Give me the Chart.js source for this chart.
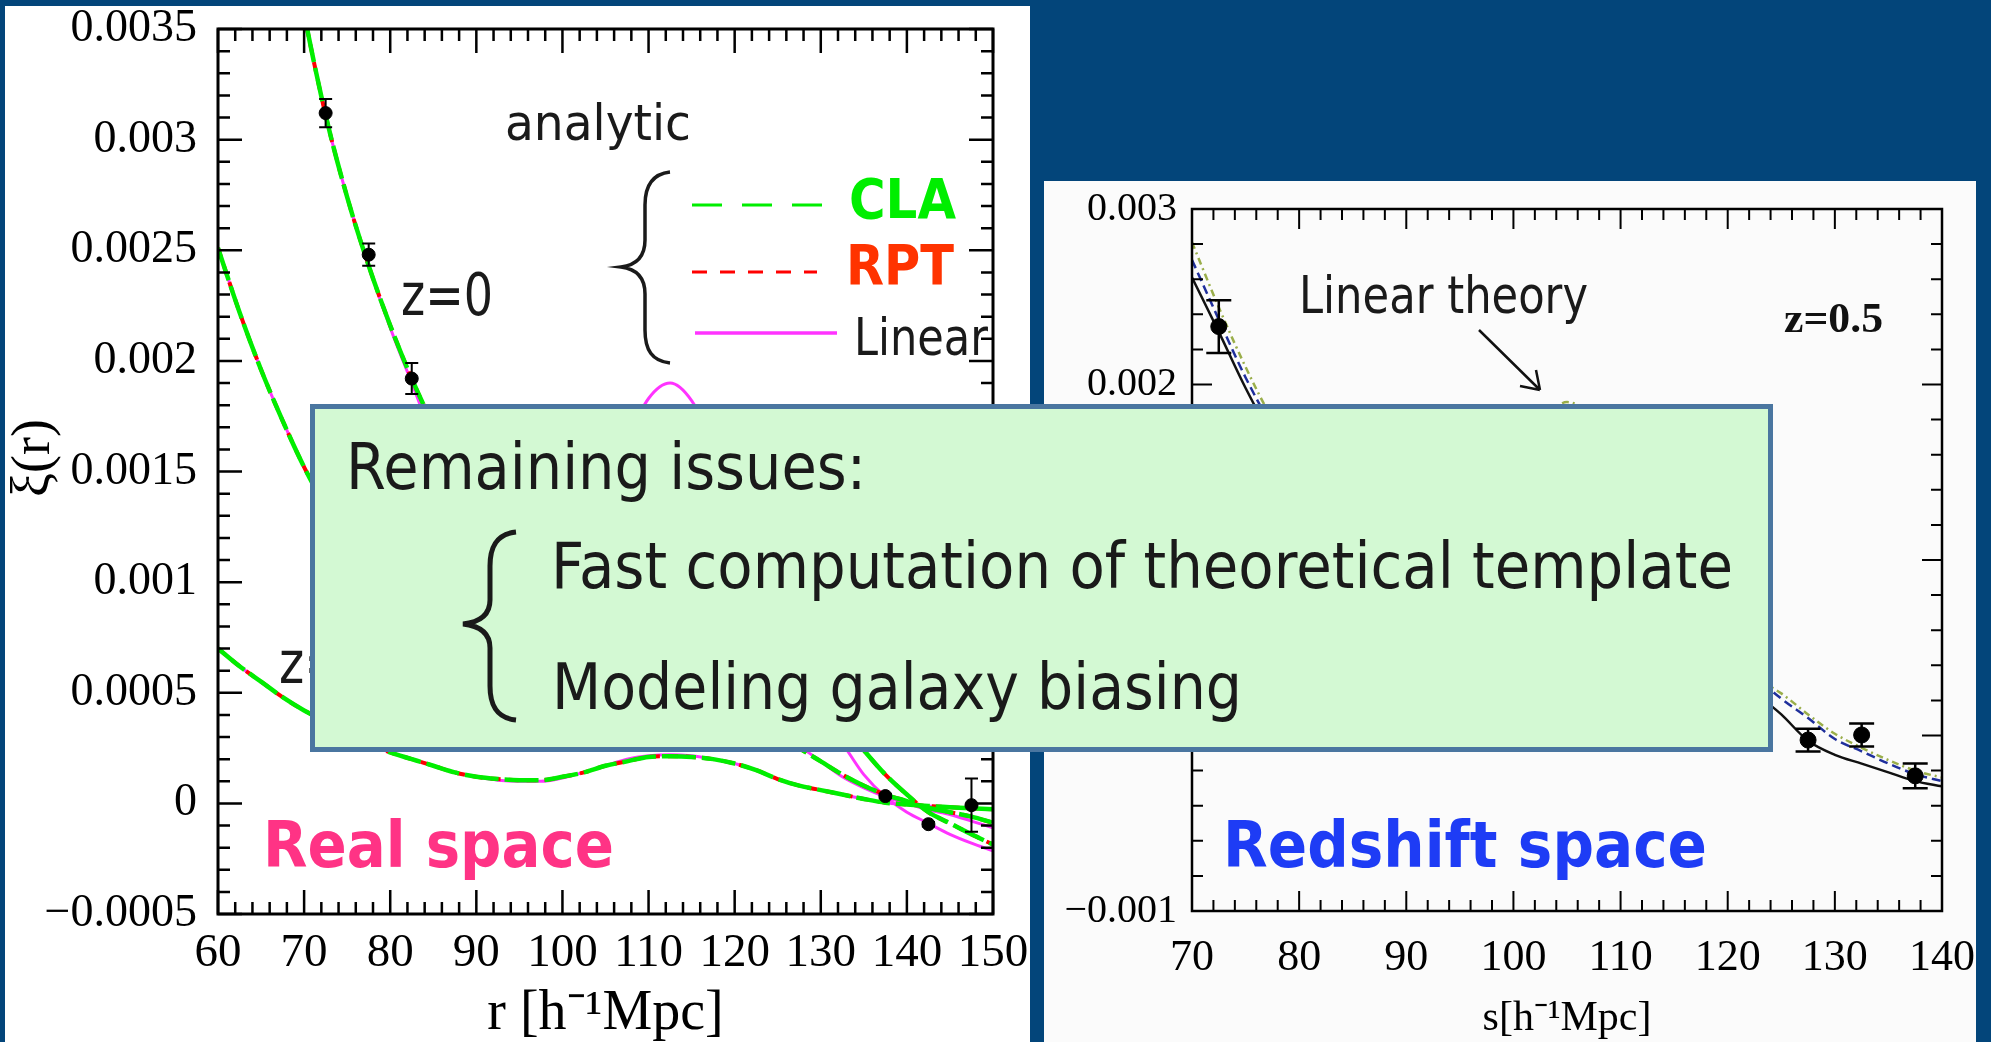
<!DOCTYPE html>
<html>
<head>
<meta charset="utf-8">
<title>Correlation function: real space and redshift space</title>
<script src="https://cdn.jsdelivr.net/npm/chart.js@4.4.1/dist/chart.umd.min.js"></script>
<style>
  body { margin: 0; width: 1991px; height: 1042px; background: #03457a; position: relative; overflow: hidden; }
  .panel { position: absolute; }
  canvas { position: absolute; left: 0; top: 0; }
  .note { position: absolute; white-space: nowrap; font-family: 'DejaVu Sans', sans-serif; transform-origin: 0 0; color: #1a1a1a; }
  #issues { position: absolute; left: 310px; top: 404px; width: 1453px; height: 338px; border: 5px solid #4a76a0; background: #d3f9d3; }
  svg { position: absolute; left: 0; top: 0; }
</style>
</head>
<body>
<div class="panel" style="left:5px; top:6px; width:1025px; height:1036px; background:#fff"></div>
<div class="panel" style="left:1044px; top:181px; width:932px; height:861px; background:#fbfbfb"></div>
<canvas id="realChart" width="1991" height="1042"></canvas>
<canvas id="zspaceChart" width="1991" height="1042"></canvas>

<div class="note" id="realLabel" style="font-weight:bold; color:#ff3385">Real space</div>
<div class="note" id="zspaceLabel" style="font-weight:bold; color:#1e3cf5">Redshift space</div>

<div id="issues"></div>
<svg width="1991" height="1042">
  <path d="M516,532 C497,534 490,546 490,566 L490,600 C490,614 481,622 463,624 C481,626 490,634 490,648 L490,686 C490,706 497,718 516,720"
        fill="none" stroke="#1a1a1a" stroke-width="5"/>
</svg>
<div class="note" id="issue0">Remaining issues:</div>
<div class="note" id="issue1">Fast computation of theoretical template</div>
<div class="note" id="issue2">Modeling galaxy biasing</div>

<script>
// ---- left panel: real space xi(r) ----
const rVals = [60, 62.5, 65, 67.5, 70, 72.5, 75, 77.5, 80, 82.5, 85, 87.5, 90, 92.5, 95, 97.5, 100, 102.5, 105,
  107.5, 110, 112.5, 115, 117.5, 120, 122.5, 125, 127.5, 130, 132.5, 135, 137.5, 140, 142.5, 145, 147.5, 150];

// z = 0
const claZ0 = [0.0060, 0.0053, 0.0047, 0.0041, 0.00357, 0.00311, 0.00274, 0.00243, 0.00216, 0.00192, 0.00171, 0.00152,
  0.00137, 0.00126, 0.0012, 0.00119, 0.00123, 0.00131, 0.00141, 0.00149, 0.00153, 0.0015, 0.00142, 0.00128, 0.0011,
  0.0009, 0.00073, 0.0006, 0.00048, 0.00036, 0.00024, 0.00013, 0.00004, -0.00004, -0.00009, -0.00014, -0.000186];
const rptZ0 = [0.0060, 0.0053, 0.0047, 0.0041, 0.00357, 0.00311, 0.00274, 0.00243, 0.00216, 0.00192, 0.00171, 0.00152,
  0.00137, 0.00126, 0.0012, 0.00119, 0.00123, 0.00132, 0.00142, 0.0015, 0.00154, 0.00151, 0.00142, 0.00128, 0.0011,
  0.0009, 0.00073, 0.0006, 0.00048, 0.00036, 0.00024, 0.00013, 0.00004, -0.00004, -0.00009, -0.00014, -0.000186];
const linZ0 = [0.0061, 0.0054, 0.0047, 0.0041, 0.00357, 0.00311, 0.00274, 0.00243, 0.00215, 0.0019, 0.00165, 0.00142,
  0.00122, 0.00106, 0.00097, 0.00095, 0.00102, 0.00118, 0.0014, 0.00164, 0.00183, 0.0019, 0.00182, 0.00162, 0.00134,
  0.00104, 0.00076, 0.00054, 0.00038, 0.00027, 0.00013, 0.00003, -0.00004, -0.00009, -0.00014, -0.00018, -0.000215];

// z = 1
const claZ1 = [0.00251, 0.00222, 0.00196, 0.00173, 0.00152, 0.00134, 0.00118, 0.00104, 0.00092, 0.00082, 0.00073, 0.00066,
  0.0006, 0.00056, 0.00054, 0.00054, 0.00056, 0.00059, 0.00063, 0.00066, 0.00067, 0.00066, 0.00062, 0.00056, 0.00048,
  0.0004, 0.00032, 0.00025, 0.00019, 0.00013, 0.00008, 0.00004, 0.00001, -0.00002, -0.00004, -0.00006, -0.000088];
const rptZ1 = claZ1;
const linZ1 = [0.00251, 0.00222, 0.00196, 0.00173, 0.00152, 0.00134, 0.00118, 0.00104, 0.00091, 0.0008, 0.0007, 0.00061,
  0.00054, 0.00049, 0.00047, 0.00047, 0.00051, 0.00058, 0.00066, 0.00074, 0.00079, 0.0008, 0.00076, 0.00067, 0.00055,
  0.00043, 0.00033, 0.00026, 0.00019, 0.00012, 0.00007, 0.00003, 0.0, -0.00003, -0.00005, -0.00008, -0.00011];

// z = 3
const claZ3 = [0.0007, 0.00062, 0.00055, 0.00048, 0.00042, 0.00037, 0.00032, 0.00027, 0.00023, 0.0002, 0.00017, 0.00014,
  0.00012, 0.00011, 0.000105, 0.000105, 0.00012, 0.00014, 0.00017, 0.00019, 0.00021, 0.000213, 0.00021, 0.0002, 0.00018,
  0.00015, 0.00011, 0.00008, 0.00006, 0.00004, 0.00002, 0.000003, -0.000005, -0.000012, -0.000017, -0.000022, -0.000027];
const rptZ3 = claZ3;
const linZ3 = [0.0007, 0.00062, 0.00055, 0.00048, 0.00042, 0.00037, 0.00032, 0.00027, 0.00023, 0.0002, 0.00017, 0.00014,
  0.00012, 0.000105, 0.0001, 0.0001, 0.000115, 0.00014, 0.00017, 0.0002, 0.000215, 0.00022, 0.000215, 0.0002, 0.00018,
  0.00015, 0.00011, 0.00008, 0.00006, 0.00004, 0.00002, 0.000003, -0.000005, -0.000012, -0.000017, -0.000022, -0.000027];

// N-body points, z = 0
const rPts = [72.5, 77.5, 82.5, 137.5, 142.5, 147.5];
const xiPts = [0.00312, 0.00248, 0.00192, 0.000033, -0.000094, -0.000008];
const xiErr = [0.000064, 0.00005, 0.00007, 0.00001, 0.00001, 0.00012];

const realYTicks = [-0.0005, 0, 0.0005, 0.001, 0.0015, 0.002, 0.0025, 0.003, 0.0035];
const realYLabels = ['\u22120.0005', '0', '0.0005', '0.001', '0.0015', '0.002', '0.0025', '0.003', '0.0035'];

// ---- right panel: redshift space xi(s), z = 0.5 ----
const sVals = [70, 72.5, 75, 77.5, 80, 82.5, 85, 87.5, 90, 92.5, 95, 97.5, 100, 102.5, 105, 107.5, 110,
  112.5, 115, 117.5, 120, 122.5, 125, 127.5, 130, 132.5, 135, 137.5, 140];
const xisBlack = [0.00261, 0.0023, 0.00198, 0.0017, 0.00148, 0.00131, 0.00119, 0.00111, 0.00107, 0.00107, 0.00111,
  0.00118, 0.00126, 0.00133, 0.00136, 0.00132, 0.00121, 0.00103, 0.00082, 0.0006, 0.00041, 0.00025, 0.00012,
  -0.00003, -0.00011, -0.00016, -0.00021, -0.00026, -0.00029];
const xisBlue = [0.00271, 0.00237, 0.00204, 0.00176, 0.00154, 0.00137, 0.00125, 0.00117, 0.00113, 0.00113, 0.00117,
  0.00124, 0.00133, 0.00141, 0.00145, 0.00141, 0.0013, 0.00112, 0.0009, 0.00068, 0.00049, 0.00034, 0.00021,
  0.0001, -0.00002, -0.00009, -0.00016, -0.00022, -0.00026];
const xisLinear = [0.00281, 0.00244, 0.0021, 0.0018, 0.00155, 0.00134, 0.00118, 0.00107, 0.00101, 0.001, 0.00106,
  0.0012, 0.00146, 0.00175, 0.0019, 0.00179, 0.00148, 0.00112, 0.0008, 0.00057, 0.00042, 0.00033, 0.00024,
  0.00012, 0.00001, -0.00007, -0.00014, -0.0002, -0.00024];

const sPts = [72.5, 127.5, 132.5, 137.5];
const xisPts = [0.00233, -0.000026, 0.000003, -0.00023];
const xisErr = [0.00015, 0.000065, 0.000066, 0.00007];

const zspaceYTicks = [-0.001, 0, 0.001, 0.002, 0.003];
const zspaceYLabels = ['\u22120.001', '0', '0.001', '0.002', '0.003'];

Chart.defaults.color = '#000';

const pairs = (xs, ys) => xs.map((x, i) => ({ x: x, y: ys[i] }));

function curve(xs, ys, color, width, dash) {
  return {
    data: pairs(xs, ys),
    showLine: true,
    borderColor: color,
    borderWidth: width,
    borderDash: dash,
    pointRadius: 0,
    cubicInterpolationMode: 'monotone',
    fill: false
  };
}

function fitText(ctx, text, x, y, width, font, color) {
  ctx.save();
  ctx.font = font;
  ctx.fillStyle = color;
  ctx.textBaseline = 'alphabetic';
  const w = ctx.measureText(text).width;
  ctx.translate(x, y);
  ctx.scale(width / w, 1);
  ctx.fillText(text, 0, 0);
  ctx.restore();
}

// box frame with inward ticks on all four sides
const framePlugin = {
  id: 'frame',
  afterDatasetsDraw(chart, args, opts) {
    const { ctx, chartArea: a, scales: { x, y } } = chart;
    ctx.save();
    ctx.strokeStyle = '#000';
    ctx.lineWidth = opts.tickWidth;
    ctx.beginPath();
    const nx = Math.round((x.max - x.min) / opts.xMinor);
    for (let i = 0; i <= nx; i++) {
      const px = x.getPixelForValue(x.min + i * opts.xMinor);
      const len = i % opts.every === 0 ? opts.major : opts.minor;
      ctx.moveTo(px, a.top); ctx.lineTo(px, a.top + len);
      ctx.moveTo(px, a.bottom); ctx.lineTo(px, a.bottom - len);
    }
    const ny = Math.round((y.max - y.min) / opts.yMinor);
    for (let i = 0; i <= ny; i++) {
      const py = y.getPixelForValue(y.min + i * opts.yMinor);
      const len = i % opts.every === 0 ? opts.major : opts.minor;
      ctx.moveTo(a.left, py); ctx.lineTo(a.left + len, py);
      ctx.moveTo(a.right, py); ctx.lineTo(a.right - len, py);
    }
    ctx.stroke();
    ctx.lineWidth = opts.width;
    ctx.strokeRect(a.left, a.top, a.right - a.left, a.bottom - a.top);
    ctx.restore();
  }
};

const errorBars = {
  id: 'errorBars',
  afterDatasetsDraw(chart) {
    const { ctx, scales: { x, y } } = chart;
    chart.data.datasets.forEach((ds) => {
      if (!ds.errors) return;
      ctx.save();
      ctx.strokeStyle = '#000';
      ctx.lineWidth = ds.errWidth;
      ctx.beginPath();
      ds.data.forEach((p, i) => {
        const px = x.getPixelForValue(p.x);
        const top = y.getPixelForValue(p.y + ds.errors[i]);
        const bot = y.getPixelForValue(p.y - ds.errors[i]);
        const c = ds.capWidth / 2;
        ctx.moveTo(px, top); ctx.lineTo(px, bot);
        ctx.moveTo(px - c, top); ctx.lineTo(px + c, top);
        ctx.moveTo(px - c, bot); ctx.lineTo(px + c, bot);
      });
      ctx.stroke();
      ctx.restore();
    });
  }
};

const realNotes = {
  id: 'realNotes',
  afterDraw(chart) {
    const ctx = chart.ctx;
    fitText(ctx, 'analytic', 505, 140, 186, '50px "DejaVu Sans"', '#1a1a1a');
    fitText(ctx, 'z=0', 401, 315, 92, '58px "DejaVu Sans"', '#1a1a1a');
    fitText(ctx, 'z=3', 279, 683, 96, '58px "DejaVu Sans"', '#1a1a1a');
    fitText(ctx, 'CLA', 849, 218, 107, 'bold 56px "DejaVu Sans"', '#00ee00');
    fitText(ctx, 'RPT', 846, 284, 108, 'bold 56px "DejaVu Sans"', '#ff3300');
    fitText(ctx, 'Linear', 854, 355, 134, '51px "DejaVu Sans"', '#1a1a1a');
    ctx.save();
    ctx.lineWidth = 3;
    ctx.strokeStyle = '#00ee00';
    ctx.setLineDash([30, 20]);
    ctx.beginPath(); ctx.moveTo(692, 205); ctx.lineTo(824, 205); ctx.stroke();
    ctx.strokeStyle = '#ff0000';
    ctx.setLineDash([15, 13]);
    ctx.beginPath(); ctx.moveTo(692, 272); ctx.lineTo(817, 272); ctx.stroke();
    ctx.strokeStyle = '#ff33ff';
    ctx.lineWidth = 3.5;
    ctx.setLineDash([]);
    ctx.beginPath(); ctx.moveTo(695, 333); ctx.lineTo(837, 333); ctx.stroke();
    // brace
    ctx.strokeStyle = '#1a1a1a';
    ctx.lineWidth = 3.5;
    ctx.beginPath();
    ctx.moveTo(670, 172);
    ctx.bezierCurveTo(652, 174, 645, 186, 645, 205);
    ctx.lineTo(645, 240);
    ctx.bezierCurveTo(645, 256, 637, 265, 621, 267);
    ctx.bezierCurveTo(637, 269, 645, 278, 645, 294);
    ctx.lineTo(645, 330);
    ctx.bezierCurveTo(645, 350, 652, 361, 670, 363);
    ctx.stroke();
    ctx.restore();
  }
};

const zspaceNotes = {
  id: 'zspaceNotes',
  afterDraw(chart) {
    const ctx = chart.ctx;
    fitText(ctx, 'Linear theory', 1299, 313, 289, '52px "DejaVu Sans"', '#1a1a1a');
    fitText(ctx, 'z=0.5', 1784, 332, 99, 'bold 42px "Liberation Serif"', '#111');
    ctx.save();
    ctx.strokeStyle = '#111';
    ctx.lineWidth = 2.5;
    ctx.beginPath();
    ctx.moveTo(1479, 330); ctx.lineTo(1540, 390);
    ctx.moveTo(1540, 390); ctx.lineTo(1536, 370);
    ctx.moveTo(1540, 390); ctx.lineTo(1520, 386);
    ctx.stroke();
    ctx.restore();
  }
};

new Chart(document.getElementById('realChart'), {
  type: 'scatter',
  data: {
    datasets: [
      { data: pairs(rPts, xiPts), pointRadius: 6.5, backgroundColor: '#000', borderColor: '#000',
        errors: xiErr, capWidth: 13, errWidth: 2 },
      curve(rVals, claZ0, '#00ee00', 4.5, [34, 6]),
      curve(rVals, claZ1, '#00ee00', 4.5, [34, 6]),
      curve(rVals, claZ3, '#00ee00', 4.5, [34, 6]),
      curve(rVals, rptZ0, '#ff0000', 4, [10, 8]),
      curve(rVals, rptZ1, '#ff0000', 4, [10, 8]),
      curve(rVals, rptZ3, '#ff0000', 4, [10, 8]),
      curve(rVals, linZ0, '#ff33ff', 3, []),
      curve(rVals, linZ1, '#ff33ff', 3, []),
      curve(rVals, linZ3, '#ff33ff', 3, [])
    ]
  },
  options: {
    responsive: false,
    animation: false,
    events: [],
    layout: { padding: { left: 0, top: 29, right: 998, bottom: 0 } },
    plugins: {
      legend: { display: false },
      tooltip: { enabled: false },
      frame: { width: 3, tickWidth: 2.5, major: 24, minor: 12, every: 5, xMinor: 2, yMinor: 0.0001 }
    },
    scales: {
      x: {
        type: 'linear', min: 60, max: 150,
        grid: { display: false, drawTicks: false }, border: { display: false },
        ticks: { stepSize: 10, autoSkip: false, maxRotation: 0, padding: 11,
          font: { family: 'Liberation Serif', size: 47 } },
        title: { display: true, text: 'r [h\u207B\u00B9Mpc]', padding: { top: 0, bottom: 0 },
          font: { family: 'Liberation Serif', size: 56, lineHeight: 1 } },
        afterFit(scale) { scale.height = 128; scale.paddingLeft = 0; scale.paddingRight = 0; }
      },
      y: {
        type: 'linear', min: -0.0005, max: 0.0035,
        grid: { display: false, drawTicks: false }, border: { display: false },
        ticks: { padding: 21, font: { family: 'Liberation Serif', size: 46 },
          callback: (v, i) => realYLabels[i] },
        afterBuildTicks(scale) { scale.ticks = realYTicks.map((v) => ({ value: v })); },
        title: { display: true, text: '\u2002\u03BE(r)', padding: { top: 8, bottom: 0 },
          font: { family: 'Liberation Serif', size: 54, lineHeight: 1 } },
        afterFit(scale) { scale.width = 218; scale.paddingTop = 0; scale.paddingBottom = 0; }
      }
    }
  },
  plugins: [framePlugin, errorBars, realNotes]
});

new Chart(document.getElementById('zspaceChart'), {
  type: 'scatter',
  data: {
    datasets: [
      { data: pairs(sPts, xisPts), pointRadius: 8, backgroundColor: '#000', borderColor: '#000',
        errors: xisErr, capWidth: 25, errWidth: 2.5 },
      curve(sVals, xisBlack, '#111111', 2.5, []),
      curve(sVals, xisBlue, '#1f2f9c', 2.5, [9, 5]),
      curve(sVals, xisLinear, '#9aae4a', 2.5, [7, 4, 2, 4])
    ]
  },
  options: {
    responsive: false,
    animation: false,
    events: [],
    layout: { padding: { left: 0, top: 209, right: 49, bottom: 0 } },
    plugins: {
      legend: { display: false },
      tooltip: { enabled: false },
      frame: { width: 2.5, tickWidth: 2, major: 20, minor: 11, every: 5, xMinor: 2, yMinor: 0.0002 }
    },
    scales: {
      x: {
        type: 'linear', min: 70, max: 140,
        grid: { display: false, drawTicks: false }, border: { display: false },
        ticks: { stepSize: 10, autoSkip: false, maxRotation: 0, padding: 21,
          font: { family: 'Liberation Serif', size: 44 } },
        title: { display: true, text: 's[h\u207B\u00B9Mpc]', padding: { top: 0, bottom: 2 },
          font: { family: 'Liberation Serif', size: 42, lineHeight: 1 } },
        afterFit(scale) { scale.height = 131; scale.paddingLeft = 0; scale.paddingRight = 0; }
      },
      y: {
        type: 'linear', min: -0.001, max: 0.003,
        grid: { display: false, drawTicks: false }, border: { display: false },
        ticks: { padding: 15, font: { family: 'Liberation Serif', size: 40 },
          callback: (v, i) => zspaceYLabels[i] },
        afterBuildTicks(scale) { scale.ticks = zspaceYTicks.map((v) => ({ value: v })); },
        afterFit(scale) { scale.width = 1192; scale.paddingTop = 0; scale.paddingBottom = 0; }
      }
    }
  },
  plugins: [framePlugin, errorBars, zspaceNotes]
});

// slide texts: left edge, baseline, target width, font size
function placeNote(id, left, baseline, width, size) {
  const el = document.getElementById(id);
  el.style.fontSize = size + 'px';
  el.style.lineHeight = size + 'px';
  el.style.left = left + 'px';
  el.style.top = (baseline - 0.846 * size) + 'px';
  el.style.transform = 'scaleX(' + (width / el.getBoundingClientRect().width) + ')';
}
placeNote('realLabel', 263, 867, 351, 64);
placeNote('zspaceLabel', 1223, 867, 484, 64);
placeNote('issue0', 346, 489, 520, 64);
placeNote('issue1', 551, 588, 1182, 64);
placeNote('issue2', 552, 709, 690, 64);
</script>
</body>
</html>
